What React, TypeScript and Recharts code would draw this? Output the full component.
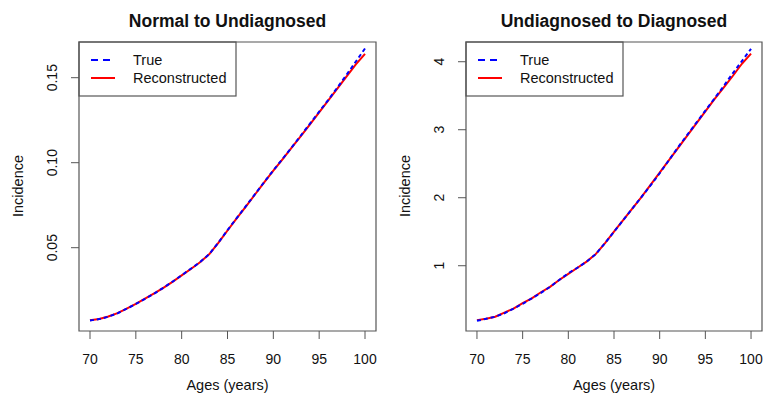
import React from 'react';
import { LineChart, Line, XAxis, YAxis, ReferenceArea } from 'recharts';

const ages = [70, 71, 72, 73, 74, 75, 76, 77, 78, 79, 80, 81, 82, 83, 84, 85, 86, 87, 88, 89, 90, 91, 92, 93, 94, 95, 96, 97, 98, 99, 100];

// Normal -> Undiagnosed
const trueNU = [0.0072, 0.0080, 0.0094, 0.0114, 0.0141, 0.0169, 0.0199, 0.0230, 0.0264, 0.0300, 0.0338, 0.0376, 0.0415, 0.0462, 0.0530, 0.0603, 0.0674, 0.0744, 0.0815, 0.0886, 0.0955, 0.1022, 0.1090, 0.1160, 0.1230, 0.1300, 0.1370, 0.1443, 0.1518, 0.1595, 0.1672];
const reconNU = [0.0073, 0.0081, 0.0095, 0.0115, 0.0142, 0.0170, 0.0200, 0.0231, 0.0264, 0.0299, 0.0337, 0.0375, 0.0414, 0.0461, 0.0528, 0.0601, 0.0672, 0.0742, 0.0813, 0.0884, 0.0953, 0.1020, 0.1088, 0.1157, 0.1226, 0.1296, 0.1366, 0.1437, 0.1508, 0.1578, 0.1640];

// Undiagnosed -> Diagnosed
const trueUD = [0.19, 0.22, 0.25, 0.30, 0.37, 0.44, 0.52, 0.60, 0.69, 0.79, 0.89, 0.97, 1.06, 1.17, 1.33, 1.50, 1.67, 1.84, 2.01, 2.18, 2.36, 2.55, 2.74, 2.92, 3.10, 3.28, 3.46, 3.64, 3.83, 4.01, 4.19];
const reconUD = [0.20, 0.22, 0.25, 0.31, 0.37, 0.45, 0.52, 0.61, 0.69, 0.79, 0.88, 0.97, 1.06, 1.17, 1.33, 1.50, 1.67, 1.84, 2.01, 2.19, 2.37, 2.55, 2.73, 2.91, 3.09, 3.27, 3.45, 3.62, 3.79, 3.97, 4.12];

const xTicks = [70, 75, 80, 85, 90, 95, 100];
const yTicksNU = [0.05, 0.1, 0.15];
const yTicksUD = [1, 2, 3, 4];

const FONT = '"Liberation Sans", Arial, sans-serif';
const GREY = '#555';

type PanelProps = {
  title: string;
  trueVals: number[];
  reconVals: number[];
  yDomain: [number, number];
  yTicks: number[];
  fmt: (v: number) => string;
  left: number;
  width: number;
  plotLeft: number;
  plotRight: number;
};

function Panel({ title, trueVals, reconVals, yDomain, yTicks, fmt, left, width, plotLeft, plotRight }: PanelProps) {
  const rows = ages.map((a, i) => ({ age: a, t: trueVals[i], r: reconVals[i] }));
  const yW = 50;
  const cx = (plotLeft + plotRight) / 2;

  const yTick = (p: any) => (
    <text transform={`translate(${plotLeft - 22},${p.y}) rotate(-90)`} textAnchor="middle" fontSize={14} fill="#111" fontFamily={FONT}>
      {fmt(p.payload.value)}
    </text>
  );
  const xTick = (p: any) => (
    <text x={p.x} y={364} textAnchor="middle" fontSize={14} fill="#111" fontFamily={FONT}>
      {p.payload.value}
    </text>
  );

  return (
    <div style={{ position: 'absolute', left, top: 0, width, height: 394 }}>
      <LineChart
        width={width}
        height={394}
        data={rows}
        margin={{ top: 42, right: width - plotRight, bottom: 13, left: plotLeft - yW }}
        style={{ fontFamily: FONT }}
      >
        <XAxis
          dataKey="age"
          type="number"
          domain={[68.8, 101.2]}
          ticks={xTicks}
          allowDataOverflow
          axisLine={false}
          tickSize={8}
          tickLine={{ stroke: GREY }}
          tick={xTick}
          height={50}
        />
        <YAxis
          type="number"
          domain={yDomain}
          ticks={yTicks}
          allowDataOverflow
          axisLine={false}
          tickSize={8}
          tickLine={{ stroke: GREY }}
          tick={yTick}
          width={yW}
        />
        <ReferenceArea x1={68.8} x2={101.2} y1={yDomain[0]} y2={yDomain[1]} fill="none" stroke={GREY} strokeWidth={1.2} />
        <Line dataKey="r" stroke="#ff0000" strokeWidth={2} dot={false} isAnimationActive={false} />
        <Line dataKey="t" stroke="#0000ff" strokeWidth={2} strokeDasharray="4 3" dot={false} isAnimationActive={false} />
        <g transform={`translate(${plotLeft},42)`}>
          <rect x={0} y={0} width={157} height={54} fill="#fff" stroke={GREY} strokeWidth={1.2} />
          <line x1={12} x2={36} y1={18} y2={18} stroke="#0000ff" strokeWidth={2} strokeDasharray="7 5" />
          <line x1={12} x2={36} y1={36} y2={36} stroke="#ff0000" strokeWidth={2} />
          <text x={54} y={23} fontSize={14.5} fontFamily={FONT} fill="#111">True</text>
          <text x={54} y={41} fontSize={14.5} fontFamily={FONT} fill="#111">Reconstructed</text>
        </g>
        <text x={cx} y={27} textAnchor="middle" fontSize={17.5} fontWeight="bold" fontFamily={FONT} fill="#111">{title}</text>
        <text x={cx} y={390} textAnchor="middle" fontSize={14.5} fontFamily={FONT} fill="#111">Ages (years)</text>
        <text transform={`translate(${plotLeft - 56},186) rotate(-90)`} textAnchor="middle" fontSize={14.5} fontFamily={FONT} fill="#111">Incidence</text>
      </LineChart>
    </div>
  );
}

export default function App() {
  return (
    <div style={{ position: 'absolute', left: 0, top: 0, width: 763, height: 394, background: '#fff', overflow: 'hidden' }}>
      <Panel
        title="Normal to Undiagnosed"
        trueVals={trueNU}
        reconVals={reconNU}
        yDomain={[0.001, 0.171]}
        yTicks={yTicksNU}
        fmt={(v) => v.toFixed(2)}
        left={0}
        width={380}
        plotLeft={79}
        plotRight={376}
      />
      <Panel
        title="Undiagnosed to Diagnosed"
        trueVals={trueUD}
        reconVals={reconUD}
        yDomain={[0.04, 4.29]}
        yTicks={yTicksUD}
        fmt={(v) => String(v)}
        left={380}
        width={383}
        plotLeft={86}
        plotRight={382}
      />
    </div>
  );
}
